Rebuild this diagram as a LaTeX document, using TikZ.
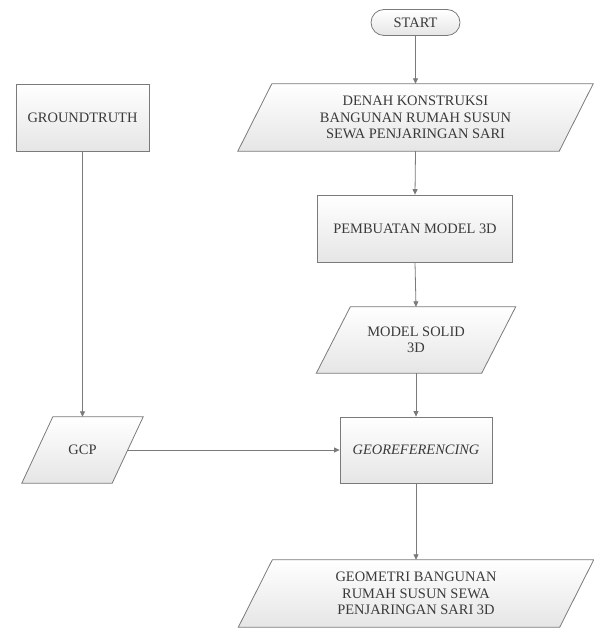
\documentclass[tikz,border=0pt]{standalone}
\usepackage{fontspec}
\setmainfont{Liberation Serif}
\usetikzlibrary{shapes.misc,arrows.meta,backgrounds}
\definecolor{edgec}{HTML}{7A7A7A}
\definecolor{txtc}{HTML}{3A3A3A}
\tikzset{
  every node/.style={font=\fontsize{14.5}{16.5}\selectfont, text=txtc, align=center, inner sep=0pt},
  procbox/.style={rectangle, draw=edgec, line width=0.8pt, top color=white, bottom color=black!10},
  iobox/.style={rectangle, draw=none},
  termbox/.style={rounded rectangle, draw=edgec, line width=0.8pt, top color=white, bottom color=black!10},
  flow/.style={draw=edgec, line width=0.8pt, -{Triangle[length=5.5pt,width=5pt]}},
  parashape/.style={draw=edgec, line width=0.8pt, top color=white, bottom color=black!10}
}
\newcommand\parafill[2]{%
  \path[parashape] ([xshift=#2]#1.north west) -- ([xshift=#2]#1.north east) -- ([xshift=-#2]#1.south east) -- ([xshift=-#2]#1.south west) -- cycle;}
\begin{document}
\begin{tikzpicture}[x=1bp,y=-1bp]
\useasboundingbox (0,0) rectangle (594,628);
\node[termbox, minimum width=89bp, minimum height=26bp] (start) at (415.5,22.5) {START};
\node[iobox, minimum width=321bp, minimum height=67bp] (denah) at (415.5,117.5) {DENAH KONSTRUKSI\\BANGUNAN RUMAH SUSUN\\SEWA PENJARINGAN SARI};
\node[procbox, minimum width=133bp, minimum height=67bp] (gt) at (82.5,117.5) {GROUNDTRUTH};
\node[procbox, minimum width=195bp, minimum height=67bp] (pemb) at (415,228.5) {PEMBUATAN MODEL 3D};
\node[iobox, minimum width=165bp, minimum height=66bp] (solid) at (416,340) {MODEL SOLID\\3D};
\node[iobox, minimum width=90bp, minimum height=66bp] (gcp) at (82.5,450) {GCP};
\node[procbox, minimum width=152bp, minimum height=66bp] (geo) at (416,450) {\itshape GEOREFERENCING};
\node[iobox, minimum width=321bp, minimum height=67bp] (geom) at (416,593.5) {GEOMETRI BANGUNAN\\RUMAH SUSUN SEWA\\PENJARINGAN SARI 3D};
\begin{scope}[on background layer]
  \parafill{denah}{17bp}
  \parafill{solid}{17bp}
  \parafill{gcp}{15.5bp}
  \parafill{geom}{17bp}
\end{scope}
\draw[flow] (start.south) -- (denah.north);
\draw[flow] (denah.south) -- (pemb.north);
\draw[flow] (pemb.south) -- (solid.north);
\draw[flow] (solid.south) -- (geo.north);
\draw[flow] (gt.south) -- (gcp.north);
\draw[flow] (gcp.east) -- (geo.west);
\draw[flow] (geo.south) -- (geom.north);
\end{tikzpicture}
\end{document}
